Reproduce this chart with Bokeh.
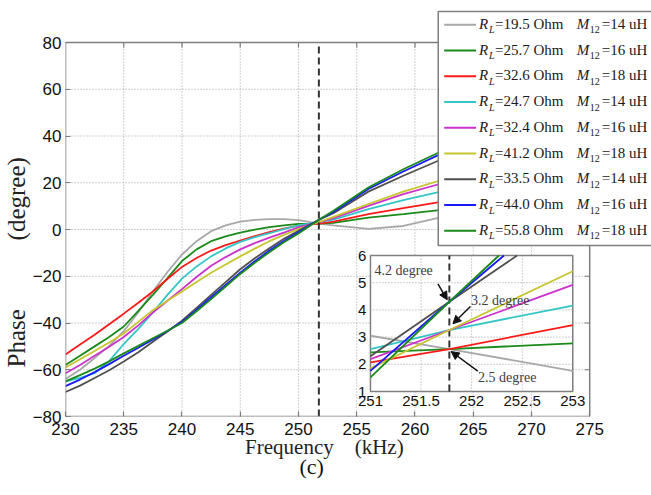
from bokeh.plotting import figure
from bokeh.models import Range1d, FixedTicker, Label, Title, Arrow, NormalHead
from bokeh.core.properties import value
from bokeh.embed import file_html
from bokeh.resources import INLINE

# ---------------- data ----------------
freq = [230, 231.25, 232.5, 233.75, 235, 236.25, 237.5, 238.75, 240, 241.25, 242.5,
        243.75, 245, 246.25, 247.5, 248.75, 250, 251.75, 253, 256, 259, 262.5]

ph_19_5 = [-64.0, -60.0, -55.0, -49.8, -43.5, -35.5, -26.5, -18.2, -10.7, -5.0, -0.7,
           1.8, 3.4, 4.1, 4.4, 4.4, 4.0, 2.5, 1.8, 0.3, 1.5, 5.5]
ph_25_7 = [-58.0, -54.0, -50.0, -46.0, -41.5, -34.8, -28.0, -20.8, -13.5, -8.5, -5.0,
           -2.9, -1.3, -0.1, 1.0, 1.8, 2.4, 2.5, 2.8, 5.1, 6.6, 8.5]
ph_32_6 = [-53.5, -49.2, -45.0, -40.5, -36.0, -31.3, -26.5, -21.2, -16.0, -12.2, -9.0,
           -6.7, -4.7, -2.8, -1.1, 0.4, 1.7, 2.5, 3.4, 6.6, 9.1, 12.0]
ph_24_7 = [-65.0, -63.5, -61.5, -56.3, -49.0, -42.5, -35.5, -28.0, -21.0, -15.8, -11.5,
           -8.1, -5.3, -3.3, -1.6, 0.2, 1.8, 3.2, 4.2, 8.7, 12.6, 16.5]
ph_32_4 = [-61.5, -58.0, -54.0, -50.2, -46.0, -41.0, -35.5, -30.5, -25.5, -20.3, -15.5,
           -11.8, -8.5, -5.8, -3.5, -1.3, 0.9, 3.2, 4.9, 10.1, 15.1, 20.0]
ph_41_2 = [-59.0, -55.5, -52.0, -48.3, -44.5, -39.5, -34.5, -30.5, -26.5, -22.5, -18.5,
           -15.0, -11.5, -8.2, -5.0, -2.3, 0.2, 3.2, 5.4, 10.9, 16.2, 21.5]
ph_33_5 = [-69.5, -66.8, -63.5, -60.2, -56.5, -52.5, -48.0, -43.6, -39.0, -33.5, -28.0,
           -22.5, -17.0, -12.3, -8.0, -4.0, -0.5, 4.2, 7.0, 16.2, 23.0, 30.5]
ph_44_0 = [-67.0, -64.2, -61.0, -57.6, -54.0, -50.6, -47.0, -43.4, -39.5, -34.4, -29.0,
           -23.7, -18.5, -13.6, -9.0, -4.9, -1.2, 4.2, 7.5, 17.3, 24.8, 33.0]
ph_55_8 = [-65.0, -62.3, -59.5, -56.4, -53.0, -49.8, -46.5, -43.3, -40.0, -35.0, -29.8,
           -24.4, -19.0, -14.2, -9.7, -5.5, -1.7, 4.2, 8.0, 18.0, 25.8, 34.0]

# inset (zoom 251-253 kHz)
ix_a = [251, 251.78, 253]
in_19_5 = [3.05, 2.56, 1.76]
in_25_7 = [2.44, 2.56, 2.77]
in_32_6 = [2.07, 2.56, 3.44]
in_24_7 = [2.56, 3.26, 4.16]
in_32_4 = [2.19, 3.26, 4.92]
in_41_2 = [1.85, 3.26, 5.42]
ix_33_5 = [251, 251.78, 252.45]
in_33_5 = [2.30, 4.30, 6.0]
ix_44_0 = [251, 251.78, 252.32]
in_44_0 = [1.76, 4.30, 6.0]
ix_55_8 = [251, 251.78, 252.27]
in_55_8 = [1.52, 4.30, 6.0]

f_marker = 251.75          # dashed vertical line (kHz)

R_L = ["19.5", "25.7", "32.6", "24.7", "32.4", "41.2", "33.5", "44.0", "55.8"]
M_12 = ["14", "16", "18", "14", "16", "18", "14", "16", "18"]
colors = ["#a8a8a8", "#1a8a1a", "#ff1a1a", "#33c6c6", "#cc33cc",
          "#c6c62e", "#505050", "#1a1aff", "#1a8a1a"]

main_series = [ph_19_5, ph_25_7, ph_32_6, ph_24_7, ph_32_4, ph_41_2, ph_33_5, ph_44_0, ph_55_8]
inset_x = [ix_a, ix_a, ix_a, ix_a, ix_a, ix_a, ix_33_5, ix_44_0, ix_55_8]
inset_series = [in_19_5, in_25_7, in_32_6, in_24_7, in_32_4, in_41_2, in_33_5, in_44_0, in_55_8]

x_lim = (230, 275)
y_lim = (-80, 80)
x_ticks = [230, 235, 240, 245, 250, 255, 260, 265, 270, 275]
y_ticks = [-80, -60, -40, -20, 0, 20, 40, 60, 80]
inset_xlim = (251, 253)
inset_ylim = (1, 6)
inset_xticks = [251, 251.5, 252, 252.5, 253]
inset_xlabels = ["251", "251.5", "252", "252.5", "253"]
inset_yticks = [1, 2, 3, 4, 5, 6]
inset_ylabels = ["1", "2", "3", "4", "5", "6"]

# ---------------- layout (pixels) ----------------
W, H = 651, 495
BL, BR, BT, BB = 63, 589, 42, 416          # main plot box
FT = 9                                     # top of the drawing frame (legend sits above the box)
IL, IR, IT, IB = 369, 572, 255, 391        # inset box
LG_L, LG_T, LG_B = 437, 11, 245            # legend box
TICK = 5

SANS = "Liberation Sans"
SERIF = "Liberation Serif"
AXC = "#7f7f7f"
GRID = "#a0a0a0"
NB = "\u00a0"

kx = (BR - BL) / (x_lim[1] - x_lim[0])
ky = (BB - BT) / (y_lim[1] - y_lim[0])

p = figure(width=W, height=H,
           x_range=Range1d(x_lim[0], x_lim[1] + (W - BR) / kx),
           y_range=Range1d(y_lim[0], y_lim[1] + (BT - FT) / ky),
           output_backend="svg", toolbar_location=None,
           min_border_left=BL, min_border_right=0,
           min_border_top=FT, min_border_bottom=H - BB)
p.outline_line_color = None
p.xgrid.visible = False
p.ygrid.visible = False

# inset data ranges and a pixel range for the legend
ikx = (IR - IL) / (inset_xlim[1] - inset_xlim[0])
iky = (IB - IT) / (inset_ylim[1] - inset_ylim[0])
p.extra_x_ranges = {
    "ix": Range1d(inset_xlim[0] - (IL - BL) / ikx, inset_xlim[1] + (W - IR) / ikx),
    "cx": Range1d(BL, W)}
p.extra_y_ranges = {
    "iy": Range1d(inset_ylim[0] - (BB - IB) / iky, inset_ylim[1] + (IT - FT) / iky),
    "cy": Range1d(BB, FT)}


def style_axis(ax, ticks, bounds):
    ax.ticker = FixedTicker(ticks=ticks)
    ax.bounds = bounds
    ax.major_tick_in = TICK
    ax.major_tick_out = 0
    ax.minor_tick_line_color = None
    ax.axis_line_color = None
    ax.major_tick_line_color = AXC
    ax.major_tick_line_width = 1.2
    ax.major_label_text_font = SANS
    ax.major_label_text_font_size = "17px"
    ax.major_label_text_color = "#111111"


xa = p.xaxis[0]
ya = p.yaxis[0]
style_axis(xa, x_ticks, x_lim)
style_axis(ya, y_ticks, y_lim)
xa.major_label_standoff = 6
ya.major_label_standoff = 4
# trailing no-break spaces keep the label centred under the plot box, not the wider frame
xa.axis_label = "Frequency" + NB * 4 + "(kHz)" + NB * 13
xa.axis_label_text_font = SERIF
xa.axis_label_text_font_size = "21px"
xa.axis_label_text_font_style = "normal"
xa.axis_label_text_color = "#222222"
xa.axis_label_standoff = -3

p.add_layout(Title(text="Phase" + NB * 11 + "(degree)", align="left", offset=49, standoff=0,
                   text_font=SERIF, text_font_size="25px", text_font_style="normal",
                   text_color="#222222"), "left")
p.add_layout(Title(text="(c)", align="left", offset=234, standoff=-20,
                   text_font=SERIF, text_font_size="22px", text_font_style="normal",
                   text_color="#111111"), "below")

# dotted grid inside the box
gx = x_ticks[1:-1]
gy = y_ticks[1:-1]
p.segment(x0=gx, y0=[y_lim[0]] * len(gx), x1=gx, y1=[y_lim[1]] * len(gx),
          line_color=GRID, line_dash="1 2", line_width=1)
p.segment(x0=[x_lim[0]] * len(gy), y0=gy, x1=[x_lim[1]] * len(gy), y1=gy,
          line_color=GRID, line_dash="1 2", line_width=1)

# main curves
for ys, c in zip(main_series, colors):
    p.line(freq, ys, line_color=c, line_width=1.8)

p.segment(x0=[f_marker], y0=[y_lim[0]], x1=[f_marker], y1=[y_lim[1]],
          line_color="#333333", line_width=2, line_dash="7 4")

# box with inward ticks on top and right
p.quad(left=[x_lim[0]], right=[x_lim[1]], bottom=[y_lim[0]], top=[y_lim[1]],
       fill_color=None, line_color=AXC, line_width=1.5)
p.segment(x0=gx, y0=[y_lim[1]] * len(gx), x1=gx, y1=[y_lim[1] - TICK / ky] * len(gx),
          line_color=AXC, line_width=1.2)
p.segment(x0=[x_lim[1]] * len(gy), y0=gy, x1=[x_lim[1] - TICK / kx] * len(gy), y1=gy,
          line_color=AXC, line_width=1.2)

# ---------------- inset ----------------
IR_ = dict(x_range_name="ix", y_range_name="iy")
p.quad(left=[inset_xlim[0]], right=[inset_xlim[1]], bottom=[inset_ylim[0]], top=[inset_ylim[1]],
       fill_color="white", line_color=AXC, line_width=1.5, **IR_)
igx = inset_xticks[1:-1]
igy = inset_yticks[1:-1]
p.segment(x0=igx, y0=[inset_ylim[0]] * len(igx), x1=igx, y1=[inset_ylim[1]] * len(igx),
          line_color=GRID, line_dash="1 2", **IR_)
p.segment(x0=[inset_xlim[0]] * len(igy), y0=igy, x1=[inset_xlim[1]] * len(igy), y1=igy,
          line_color=GRID, line_dash="1 2", **IR_)
p.segment(x0=[f_marker + 0.03], y0=[inset_ylim[0]], x1=[f_marker + 0.03], y1=[inset_ylim[1]],
          line_color="#333333", line_width=2, line_dash="7 4", **IR_)
for xs, ys, c in zip(inset_x, inset_series, colors):
    p.line(xs, ys, line_color=c, line_width=1.8, **IR_)

p.text(x=inset_xticks, y=[inset_ylim[0]] * len(inset_xticks), text=inset_xlabels,
       text_align="center", text_baseline="top", y_offset=4,
       text_font=value(SANS), text_font_size="15px", text_color="#111111", **IR_)
p.text(x=[inset_xlim[0]] * len(inset_yticks), y=inset_yticks, text=inset_ylabels,
       text_align="right", text_baseline="middle", x_offset=-4,
       text_font=value(SANS), text_font_size="15px", text_color="#111111", **IR_)

notes = [("4.2 degree", 251.04, 5.45, 251.667, 4.96, 251.759, 4.37),
         ("3.2 degree", 251.995, 4.35, 251.988, 4.125, 251.815, 3.49),
         ("2.5 degree", 252.064, 1.53, 252.061, 1.746, 251.798, 2.47)]
for txt, tx, ty, xs0, ys0, xe, ye in notes:
    p.add_layout(Label(x=tx, y=ty, text=txt, text_font=SERIF, text_font_size="14px",
                       text_color="#404040", text_baseline="middle", **IR_))
    p.add_layout(Arrow(x_start=xs0, y_start=ys0, x_end=xe, y_end=ye,
                       line_color="#111111", line_width=1.5,
                       end=NormalHead(size=8, fill_color="#111111", line_color="#111111"),
                       **IR_))

# ---------------- legend (pixel coordinates via the "cx"/"cy" ranges) ----------------
CR = dict(x_range_name="cx", y_range_name="cy")
p.quad(left=[LG_L], right=[W + 40], top=[LG_T], bottom=[LG_B],
       fill_color="white", line_color=AXC, line_width=1.5, **CR)
row0, row_h = 23.3, 25.75
rows = [row0 + i * row_h for i in range(len(R_L))]
n = len(rows)
p.segment(x0=[LG_L + 6] * n, y0=[r + 1 for r in rows], x1=[LG_L + 38] * n,
          y1=[r + 1 for r in rows], line_color=colors, line_width=2, **CR)
parts = [(["R"] * n, 41, 0, "15px", "italic"),
         (["L"] * n, 51, 6, "10px", "italic"),
         (["=" + r + " Ohm" for r in R_L], 57, 0, "15px", "normal"),
         (["M"] * n, 139, 0, "15px", "italic"),
         (["12"] * n, 152, 6, "10px", "normal"),
         (["=" + m + " uH" for m in M_12], 164, 0, "15px", "normal")]
for txts, dx, dy, fs, st in parts:
    p.text(x=[LG_L + dx] * n, y=[r + dy for r in rows], text=txts,
           text_align="left", text_baseline="middle",
           text_font=value(SERIF), text_font_size=fs, text_font_style=st,
           text_color="#1a1a1a", **CR)

open("out.html", "w").write(file_html(p, INLINE))
